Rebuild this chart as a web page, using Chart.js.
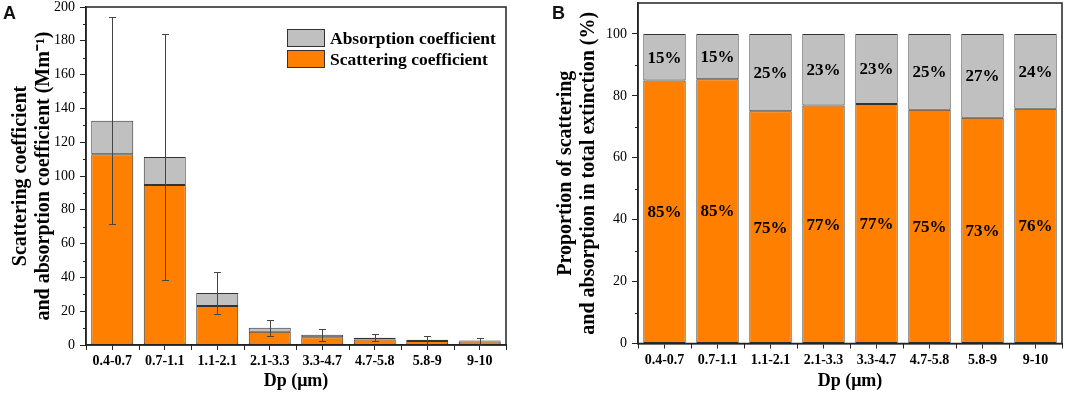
<!DOCTYPE html>
<html lang="en">
<head>
  <meta charset="UTF-8">
  <title>Scattering and absorption by particle size</title>
  <script src="https://cdn.jsdelivr.net/npm/chart.js"></script>
  <style>
    body {
      margin: 0;
      background: #fff;
      width: 1065px;
      height: 394px;
      position: relative;
      overflow: hidden;
    }
    canvas {
      position: absolute;
      top: 0;
    }
    #chartA { left: 0; }
    #chartB { left: 540px; }
    .tag {
      position: absolute;
      top: 4px;
      font-family: "Liberation Sans", Arial, sans-serif;
      font-weight: bold;
      font-size: 18px;
      line-height: 18px;
      color: #111;
    }
  </style>
</head>
<body>
  <canvas id="chartA" width="540" height="394"></canvas>
  <canvas id="chartB" width="525" height="394"></canvas>
  <div class="tag" style="left:3px">A</div>
  <div class="tag" style="left:552px">B</div>

  <script>
    const sizeBins = ['0.4-0.7', '0.7-1.1', '1.1-2.1', '2.1-3.3', '3.3-4.7', '4.7-5.8', '5.8-9', '9-10'];

    // panel A, Mm-1
    const scattering = [112.8, 94.7, 23.1, 7.9, 4.6, 3.2, 2.3, 2.0];
    const absorption = [19.9, 16.5, 7.7, 2.3, 1.4, 1.1, 0.8, 0.6];
    const extinctionSd = [61.3, 73.0, 12.6, 4.8, 3.6, 2.2, 2.5, 1.8];
    const ticksA = [0, 20, 40, 60, 80, 100, 120, 140, 160, 180, 200];

    // panel B, %
    const scatteringPct = [85.0, 85.4, 75.0, 76.9, 77.4, 75.5, 72.9, 75.8];
    const absorptionPct = [15.0, 14.6, 25.0, 23.1, 22.6, 24.5, 27.1, 24.2];
    const scatteringPctLabels = ['85%', '85%', '75%', '77%', '77%', '75%', '73%', '76%'];
    const absorptionPctLabels = ['15%', '15%', '25%', '23%', '23%', '25%', '27%', '24%'];
    const ticksB = [0, 20, 40, 60, 80, 100];

    const SERIF = '"Liberation Serif", "Times New Roman", serif';
    const ORANGE = '#ff8000';
    const GREY = '#c0c0c0';
    const EDGE = '#333';

    // box round the plot, minor ticks on y, category boundary ticks on x
    const framePlugin = {
      id: 'frame',
      afterDraw(chart) {
        const { ctx, chartArea: a, scales: { x, y } } = chart;
        ctx.save();
        ctx.strokeStyle = '#222';
        ctx.lineWidth = 1;
        const t = y.ticks.map(k => k.value);
        for (let i = 0; i < t.length - 1; i++) {
          const py = Math.round(y.getPixelForValue((t[i] + t[i + 1]) / 2)) + 0.5;
          ctx.beginPath();
          ctx.moveTo(a.left - 3, py);
          ctx.lineTo(a.left, py);
          ctx.stroke();
        }
        for (let i = 0; i <= x.ticks.length; i++) {
          const px = Math.round(x.getPixelForValue(i - 0.5)) + 0.5;
          ctx.beginPath();
          ctx.moveTo(px, a.bottom);
          ctx.lineTo(px, a.bottom + 5);
          ctx.stroke();
        }
        ctx.lineWidth = 1.5;
        ctx.strokeRect(a.left, a.top, a.right - a.left, a.bottom - a.top);
        ctx.restore();
      }
    };

    const errorBarPlugin = {
      id: 'errorBars',
      afterDatasetsDraw(chart) {
        const { ctx, scales: { y } } = chart;
        const meta = chart.getDatasetMeta(0);
        ctx.save();
        ctx.strokeStyle = '#444';
        ctx.lineWidth = 1;
        extinctionSd.forEach((sd, i) => {
          const total = scattering[i] + absorption[i];
          const px = Math.round(meta.data[i].x) + 0.5;
          const yt = Math.round(y.getPixelForValue(total + sd)) + 0.5;
          const yb = Math.round(y.getPixelForValue(total - sd)) + 0.5;
          ctx.beginPath();
          ctx.moveTo(px, yt); ctx.lineTo(px, yb);
          ctx.moveTo(px - 3.5, yt); ctx.lineTo(px + 3.5, yt);
          ctx.moveTo(px - 3.5, yb); ctx.lineTo(px + 3.5, yb);
          ctx.stroke();
        });
        ctx.restore();
      }
    };

    // legend sits inside the plot, top right, absorption listed first
    const insideLegendPlugin = {
      id: 'insideLegend',
      afterDraw(chart) {
        const { ctx, chartArea: a } = chart;
        const sets = chart.data.datasets.slice().reverse();
        const left = a.right - 219;
        ctx.save();
        ctx.font = 'bold 17.5px ' + SERIF;
        ctx.textBaseline = 'middle';
        ctx.fillStyle = '#000';
        sets.forEach((ds, i) => {
          const top = a.top + 22 + i * 21;
          ctx.fillStyle = ds.backgroundColor;
          ctx.fillRect(left, top, 38, 18);
          ctx.strokeStyle = EDGE;
          ctx.lineWidth = 1;
          ctx.strokeRect(left + 0.5, top + 0.5, 37, 17);
          ctx.fillStyle = '#000';
          ctx.fillText(ds.label, left + 43, top + 10);
        });
        ctx.restore();
      }
    };

    const shareLabelPlugin = {
      id: 'shareLabels',
      afterDatasetsDraw(chart) {
        const { ctx } = chart;
        const texts = [scatteringPctLabels, absorptionPctLabels];
        ctx.save();
        ctx.font = 'bold 17px ' + SERIF;
        ctx.textAlign = 'center';
        ctx.textBaseline = 'middle';
        ctx.fillStyle = '#000';
        texts.forEach((arr, d) => {
          chart.getDatasetMeta(d).data.forEach((bar, i) => {
            ctx.fillText(arr[i], bar.x, (bar.y + bar.base) / 2 + 1);
          });
        });
        ctx.restore();
      }
    };

    function xScale(height) {
      return {
        stacked: true,
        grid: { display: true, drawOnChartArea: false, offset: false, tickLength: 5, color: '#222' },
        border: { color: '#222', width: 1.5 },
        ticks: { color: '#000', padding: 3, font: { family: SERIF, size: 14, weight: 'bold' } },
        title: {
          display: true, text: 'Dp (μm)', color: '#000',
          font: { family: SERIF, size: 18, weight: 'bold', lineHeight: 1.2 },
          padding: { top: 0, bottom: 2 }
        },
        afterFit(s) { s.height = height; s.paddingLeft = 0; s.paddingRight = 0; }
      };
    }

    function yScale(max, tickValues, width, titleLines, titlePad) {
      return {
        stacked: true,
        min: 0,
        max: max,
        afterBuildTicks(s) { s.ticks = tickValues.map(v => ({ value: v })); },
        grid: { display: true, drawOnChartArea: false, tickLength: 6, color: '#222' },
        border: { color: '#222', width: 1.5 },
        ticks: { color: '#000', padding: 5, font: { family: SERIF, size: 14 } },
        title: {
          display: true, text: titleLines, color: '#000',
          font: { family: SERIF, size: 20, weight: 'bold', lineHeight: 1.15 },
          padding: { top: titlePad, bottom: 0 }
        },
        afterFit(s) { s.width = width; s.paddingTop = 0; s.paddingBottom = 0; }
      };
    }

    const common = {
      responsive: false,
      animation: false,
      datasets: { bar: { barPercentage: 0.8, categoryPercentage: 1 } },
      plugins: { legend: { display: false }, tooltip: { enabled: false } }
    };

    new Chart(document.getElementById('chartA'), {
      type: 'bar',
      data: {
        labels: sizeBins,
        datasets: [
          { label: 'Scattering coefficient', data: scattering, backgroundColor: ORANGE, borderColor: EDGE, borderWidth: 1, borderSkipped: false },
          { label: 'Absorption coefficient', data: absorption, backgroundColor: GREY, borderColor: EDGE, borderWidth: 1, borderSkipped: false }
        ]
      },
      options: {
        ...common,
        layout: { padding: { top: 7, right: 34, left: 0, bottom: 0 } },
        scales: {
          x: xScale(49),
          y: yScale(200, ticksA, 86, ['Scattering coefficient', 'and absorption coefficient (Mm⁻¹)'], 9.5)
        }
      },
      plugins: [framePlugin, errorBarPlugin, insideLegendPlugin]
    });

    new Chart(document.getElementById('chartB'), {
      type: 'bar',
      data: {
        labels: sizeBins,
        datasets: [
          { label: 'Scattering', data: scatteringPct, backgroundColor: ORANGE, borderColor: EDGE, borderWidth: 1, borderSkipped: false },
          { label: 'Absorption', data: absorptionPct, backgroundColor: GREY, borderColor: EDGE, borderWidth: 1, borderSkipped: false }
        ]
      },
      options: {
        ...common,
        layout: { padding: { top: 3, right: 3, left: 0, bottom: 0 } },
        scales: {
          x: xScale(50.5),
          y: yScale(110, ticksB, 98, ['Proportion of scattering', 'and absorption in total extinction (%)'], 14.5)
        }
      },
      plugins: [framePlugin, shareLabelPlugin]
    });
  </script>
</body>
</html>
